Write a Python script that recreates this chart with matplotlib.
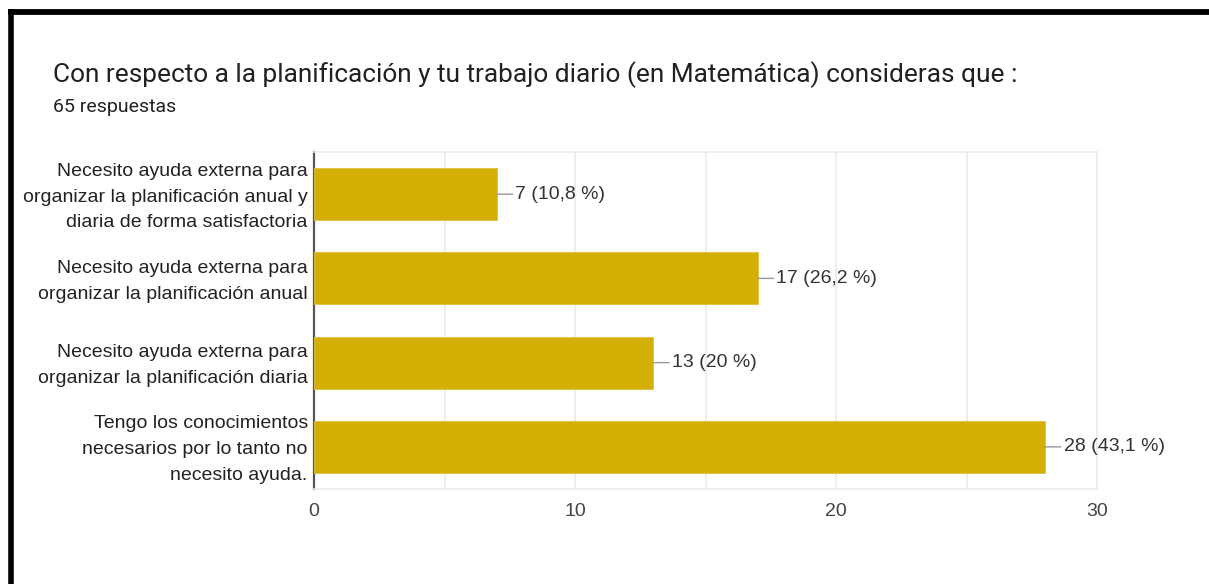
import matplotlib
matplotlib.use("Agg")
import matplotlib.pyplot as plt
from matplotlib.lines import Line2D
from matplotlib.ticker import MultipleLocator
from matplotlib.transforms import ScaledTranslation

# Survey answers
title = "Con respecto a la planificación y tu trabajo diario (en Matemática) consideras que :"
subtitle = "65 respuestas"
total = 65
categories = [
    "Necesito ayuda externa para\norganizar la planificación anual y\ndiaria de forma satisfactoria",
    "Necesito ayuda externa para\norganizar la planificación anual",
    "Necesito ayuda externa para\norganizar la planificación diaria",
    "Tengo los conocimientos\nnecesarios por lo tanto no\nnecesito ayuda.",
]
counts = [7, 17, 13, 28]
xticks = [0, 10, 20, 30]

BAR = "#d4af05"
GRID = "#ebebeb"
TEXT = "#222222"
TICK = "#444444"
CHART_FONT = ["Liberation Sans", "DejaVu Sans"]
HEAD_FONT = ["Roboto", "DejaVu Sans"]
FS = 14.0

W, H = 1209, 584
fig = plt.figure(figsize=(W / 100, H / 100), dpi=100)
fig.patch.set_facecolor("white")

ax = fig.add_axes([314 / W, 1 - 489 / H, (1097 - 314) / W, (489 - 152) / H])

y = list(range(len(categories)))
ax.barh(y, counts, height=0.62, color=BAR, edgecolor="#e0c040", linewidth=0.6, zorder=3)

ax.set_xlim(0, 30)
ax.set_ylim(len(categories) - 0.5, -0.5)
ax.xaxis.set_major_locator(MultipleLocator(10))
ax.xaxis.set_minor_locator(MultipleLocator(5))
ax.set_xticks(xticks)
ax.set_xticklabels([str(t) for t in xticks])
ax.grid(axis="x", which="both", color=GRID, linewidth=1.2, zorder=0)
ax.tick_params(axis="x", which="both", length=0, pad=10, labelsize=FS, labelcolor=TICK)
ax.set_yticks(y)
ax.set_yticklabels(categories, linespacing=1.68)
ax.tick_params(axis="y", length=0, pad=4.5, labelsize=FS, labelcolor=TEXT)
for lab in ax.get_xticklabels():
    lab.set_family(CHART_FONT)
# nudge the category labels up a little so their text block sits on the bar centre
lift = ScaledTranslation(0, 3.5 / 100, fig.dpi_scale_trans)
for lab in ax.get_yticklabels():
    lab.set_family(CHART_FONT)
    lab.set_transform(lab.get_transform() + lift)

for side in ("top", "right", "bottom"):
    ax.spines[side].set_color(GRID)
    ax.spines[side].set_linewidth(1.2)
ax.spines["left"].set_color("#555555")
ax.spines["left"].set_linewidth(1.6)

# value labels with short leader lines
for yi, c in zip(y, counts):
    pct = f"{c / total * 100:.1f}".replace(".", ",")
    if pct.endswith(",0"):
        pct = pct[:-2]
    ax.annotate(f"{c} ({pct} %)", xy=(c, yi), xytext=(13.5, 0), textcoords="offset points",
                ha="left", va="center", fontsize=FS, color="#333333", family=CHART_FONT,
                arrowprops=dict(arrowstyle="-", color="#999999", lw=1.0, shrinkA=0, shrinkB=0),
                zorder=4)

fig.text(53 / W, 1 - 82 / H, title, ha="left", va="baseline", fontsize=18.9,
         color="#202124", family=HEAD_FONT)
fig.text(53 / W, 1 - 112.5 / H, subtitle, ha="left", va="baseline", fontsize=14.0,
         color="#202124", family=HEAD_FONT)

# black frame along the top and left edges
fig.add_artist(Line2D([8 / W, 1.0], [1 - 11.5 / H, 1 - 11.5 / H], color="black", lw=4.2,
                      transform=fig.transFigure, solid_capstyle="butt"))
fig.add_artist(Line2D([10.5 / W, 10.5 / W], [1 - 9 / H, 0], color="black", lw=4.0,
                      transform=fig.transFigure, solid_capstyle="butt"))

fig.savefig("out.png", dpi=100, facecolor="white")
